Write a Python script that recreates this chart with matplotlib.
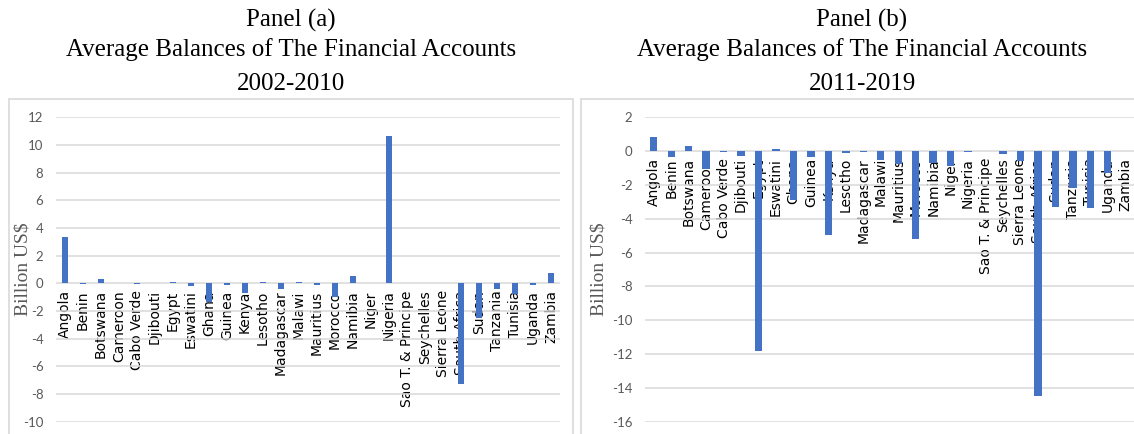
import matplotlib
matplotlib.use("Agg")
import matplotlib.pyplot as plt
from matplotlib.patches import Rectangle

countries = ["Angola", "Benin", "Botswana", "Cameroon", "Cabo Verde", "Djibouti",
             "Egypt", "Eswatini", "Ghana", "Guinea", "Kenya", "Lesotho",
             "Madagascar", "Malawi", "Mauritius", "Morocco", "Namibia", "Niger",
             "Nigeria", "Sao T. & Principe", "Seychelles", "Sierra Leone",
             "South Africa", "Sudan", "Tanzania", "Tunisia", "Uganda", "Zambia"]

bal_2002_2010 = [3.37, -0.05, 0.29, 0.0, -0.03, 0.0, 0.12, -0.18, -1.33, -0.1,
                 -0.72, 0.1, -0.4, 0.1, -0.1, -1.0, 0.55, 0.0, 10.67, 0.0,
                 0.0, 0.0, -7.28, -2.53, -0.41, -0.8, -0.12, 0.77]

bal_2011_2019 = [0.81, -0.33, 0.32, -1.08, -0.05, -0.3, -11.8, 0.1, -2.9, -0.33,
                 -4.97, -0.14, -0.05, -0.5, -0.75, -5.22, -0.72, -0.9, -0.04, 0.0,
                 -0.18, -0.6, -14.49, -3.3, -2.2, -3.38, -1.3, 0.0]

yticks_a = list(range(-10, 13, 2))
yticks_b = list(range(-16, 3, 2))

W, H = 1134, 434
BAR = "#4472C4"
GRID = "#D9D9D9"
TXT = "#595959"
SANS = "Lato"
SERIF = "Liberation Serif"

fig = plt.figure(figsize=(W / 100, H / 100), dpi=100)
fig.patch.set_facecolor("white")


def px_rect(x0, y0, x1, y1):
    return [x0 / W, 1 - y1 / H, (x1 - x0) / W, (y1 - y0) / H]


# chart-area frames
for x0, x1 in [(9, 573), (581, 1140)]:
    fig.patches.append(Rectangle((x0 / W, -0.1), (x1 - x0) / W, 1.1 - 99 / H,
                                 transform=fig.transFigure, fill=False,
                                 edgecolor=GRID, linewidth=1.2))


def panel(rect, values, yticks, width, title, period, tcx, ylab_x, ylab_y):
    ax = fig.add_axes(rect)
    ax.set_axisbelow(True)
    ax.tick_params(axis="x", length=0, pad=5, labelrotation=90)
    ax.tick_params(axis="y", length=0, pad=9)
    x = list(range(len(countries)))
    ax.bar(x, values, width=width, color=BAR, zorder=1)
    ax.set_xlim(-0.5, len(countries) - 0.5)
    ax.set_ylim(yticks[0], yticks[-1])
    ax.set_yticks(yticks)
    ax.set_yticklabels([str(t) for t in yticks], fontfamily=SANS, fontsize=9.5, color=TXT)
    ax.set_xticks(x)
    ax.set_xticklabels(countries, rotation=90, fontfamily=SANS, fontsize=10.3,
                       color=TXT, va="top", ha="center")
    ax.spines["bottom"].set_position(("data", 0))
    for s in ax.spines.values():
        s.set_visible(False)
    ax.yaxis.grid(True, color=GRID, linewidth=1.1)
    ax.set_facecolor("none")
    fig.text(tcx / W, 1 - 20 / H, title, ha="center", va="center",
             fontfamily=SERIF, fontsize=18)
    fig.text(tcx / W, 1 - 50 / H, "Average Balances of The Financial Accounts",
             ha="center", va="center", fontfamily=SERIF, fontsize=18)
    fig.text(tcx / W, 1 - 84 / H, period, ha="center", va="center",
             fontfamily=SERIF, fontsize=18)
    fig.text(ylab_x / W, 1 - ylab_y / H, "Billion US$", rotation=90,
             ha="center", va="center", fontfamily=SERIF, fontsize=14, color=TXT)
    return ax


panel(px_rect(56, 117.3, 560, 421.7), bal_2002_2010, yticks_a, 0.32,
      "Panel (a)", "2002-2010", 291, 23, 269)
panel(px_rect(645, 117.3, 1134, 421.7), bal_2011_2019, yticks_b, 0.42,
      "Panel (b)", "2011-2019", 862, 599, 269)

fig.savefig("out.png", dpi=100, facecolor="white")
